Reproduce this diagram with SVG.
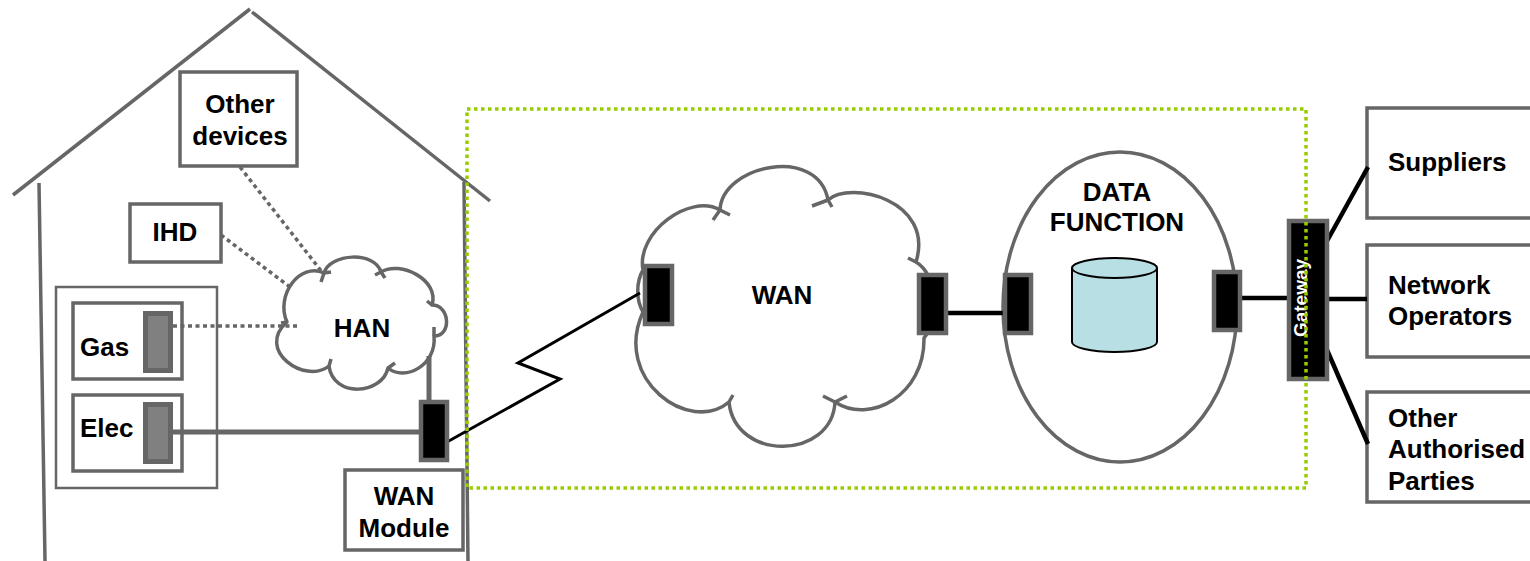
<svg xmlns="http://www.w3.org/2000/svg" width="1530" height="561" viewBox="0 0 1530 561">
<style>
.ln{fill:none;stroke:#666;stroke-width:3.5;stroke-linecap:butt}
.box{fill:#fff;stroke:#666;stroke-width:3.5}
.thin{fill:none;stroke:#666;stroke-width:2.5}
.cloud{fill:#fff;stroke:#666;stroke-width:3.5;stroke-linejoin:round}
.tick{fill:none;stroke:#666;stroke-width:3.5}
.port{fill:#000;stroke:#666;stroke-width:4.5}
.meter{fill:#808080;stroke:#666;stroke-width:5}
.dot{fill:none;stroke:#666;stroke-width:3.5;stroke-dasharray:4 3.5}
.blk{fill:none;stroke:#000;stroke-width:4.5}
.t{font-family:"Liberation Sans",Arial,sans-serif;font-weight:bold;font-size:26px;fill:#000}
.c{text-anchor:middle}
</style>

<g id="house">
  <line class="ln" x1="13" y1="195" x2="250" y2="9"/>
  <line class="ln" x1="252" y1="12" x2="490" y2="201"/>
  <line class="ln" x1="39" y1="183" x2="45" y2="561"/>
  <line class="ln" x1="464" y1="182" x2="468" y2="561"/>
</g>

<g id="meters-enclosure">
  <rect class="thin" x="56" y="287" width="161" height="201"/>
</g>

<g id="gas">
  <rect class="box" x="73" y="303" width="109" height="76"/>
  <rect class="meter" x="145.5" y="313.5" width="25" height="57"/>
  <text class="t" x="80" y="356">Gas</text>
</g>

<g id="elec">
  <rect class="box" x="73" y="395" width="109" height="76"/>
  <rect class="meter" x="145.5" y="404.5" width="25" height="57"/>
  <text class="t" x="80" y="437">Elec</text>
</g>

<g id="other-devices">
  <rect class="box" x="180" y="72" width="117" height="94"/>
  <text class="t c" x="240" y="113">Other</text>
  <text class="t c" x="240" y="145">devices</text>
</g>

<g id="ihd">
  <rect class="box" x="130" y="204" width="91" height="58"/>
  <text class="t c" x="175" y="241">IHD</text>
</g>

<g id="han">
  <path class="cloud" d="M 287,322 C 275,295 300,262 324,273 C 330,253 375,251 381,272 C 400,260 440,280 432,305 C 450,305 452,336 434,336 C 437,365 405,382 388,368 C 382,395 333,398 329,366 C 305,385 255,350 287,322 Z"/>
  <path class="tick" d="M 321,282 L 324,273 M 324,273 L 331,272 M 375,275 L 381,272 M 381,272 L 385,278 M 432,305 L 427,301 M 434,336 L 434,327 M 388,368 L 395,363 M 329,366 L 331,359 M 287,322 L 281,323"/>
  <text class="t c" x="362" y="337">HAN</text>
</g>

<g id="wan-module">
  <rect class="box" x="345" y="470" width="118" height="80"/>
  <text class="t c" x="404" y="505">WAN</text>
  <text class="t c" x="404" y="537">Module</text>
</g>

<g id="wan">
  <path class="cloud" d="M 643,312 C 636,300 636,282 643,270 C 636,232 690,193 720,210 C 722,165 818,145 828,200 C 850,180 935,200 916,262 C 938,275 940,320 924,338 C 925,395 870,425 835,402 C 832,460 735,462 729,402 C 690,435 612,380 643,312 Z"/>
  <path class="tick" d="M 713,220 L 720,210 M 720,210 L 730,215 M 812,206 L 828,200 M 828,200 L 832,207 M 908,258 L 916,262 M 835,402 L 823,396 M 835,402 L 847,396 M 729,402 L 733,395 M 643,312 L 649,318"/>
  <text class="t c" x="782" y="304">WAN</text>
</g>

<g id="data-function">
  <ellipse cx="1120" cy="307" rx="117" ry="155" fill="#fff" stroke="#666" stroke-width="3.5"/>
  <text class="t c" x="1117" y="201">DATA</text>
  <text class="t c" x="1117" y="231">FUNCTION</text>
  <path d="M 1072,268 L 1072,342 A 42.5 10 0 0 0 1157,342 L 1157,268" fill="#b8dfe3" stroke="#000" stroke-width="2"/>
  <ellipse cx="1114.5" cy="268" rx="42.5" ry="10" fill="#b8dfe3" stroke="#000" stroke-width="2"/>
</g>

<g id="suppliers">
  <rect class="box" x="1367" y="108" width="175" height="110" stroke-width="4"/>
  <text class="t" x="1388" y="171">Suppliers</text>
</g>

<g id="network-operators">
  <rect class="box" x="1367" y="245" width="175" height="112" stroke-width="4"/>
  <text class="t" x="1388" y="294">Network</text>
  <text class="t" x="1388" y="325">Operators</text>
</g>

<g id="other-authorised-parties">
  <rect class="box" x="1367" y="392" width="175" height="110" stroke-width="4"/>
  <text class="t" x="1388" y="427">Other</text>
  <text class="t" x="1388" y="458">Authorised</text>
  <text class="t" x="1388" y="490">Parties</text>
</g>

<g id="connectors">
  <line class="dot" x1="240" y1="167" x2="322" y2="272"/>
  <line class="dot" x1="221" y1="235" x2="290" y2="287"/>
  <line class="dot" x1="173" y1="326" x2="297" y2="326"/>
  <line x1="173" y1="432" x2="421" y2="432" stroke="#666" stroke-width="5"/>
  <line x1="429" y1="356" x2="429" y2="404" stroke="#666" stroke-width="5"/>
  <polyline points="447,442 560,379 518,363 640,293" fill="none" stroke="#000" stroke-width="3"/>
  <line class="blk" x1="946" y1="313" x2="1005" y2="313"/>
  <line class="blk" x1="1240" y1="298" x2="1289" y2="298"/>
  <line class="blk" x1="1327" y1="241" x2="1368" y2="167"/>
  <line class="blk" x1="1327" y1="299" x2="1367" y2="299"/>
  <line class="blk" x1="1327" y1="350" x2="1368" y2="444"/>
</g>

<g id="ports">
  <rect class="port" x="421" y="402" width="26" height="58"/>
  <rect class="port" x="645" y="266" width="27" height="58"/>
  <rect class="port" x="919" y="275" width="27" height="58"/>
  <rect class="port" x="1005" y="275" width="26" height="58"/>
  <rect class="port" x="1214" y="272" width="26" height="58"/>
</g>

<g id="gateway">
  <rect class="port" x="1289" y="221" width="38" height="158"/>
  <text transform="translate(1307,298) rotate(-90)" text-anchor="middle" font-family="Liberation Sans, Arial, sans-serif" font-weight="bold" font-size="19" fill="#fff">Gateway</text>
</g>

<g id="boundary">
  <rect x="467" y="109" width="839" height="379" fill="none" stroke="#99cc00" stroke-width="3.5" stroke-dasharray="3.5 3.5"/>
</g>
</svg>
